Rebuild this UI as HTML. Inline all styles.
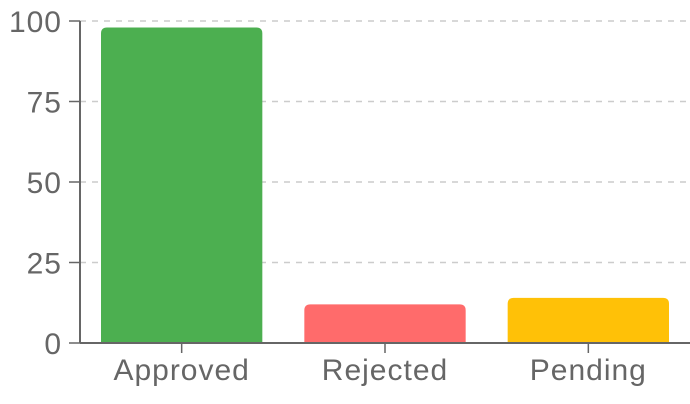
<!DOCTYPE html>
<html><head><meta charset="utf-8"><style>
html,body{margin:0;padding:0;background:#fff;}
svg{display:block;font-family:"Liberation Sans",sans-serif;}
</style></head><body>
<svg id="chart" width="690" height="404"></svg>
<script>
const categories=["Approved","Rejected","Pending"];
const values=[98,12,14];
const colors=["#4caf50","#ff6b6b","#ffc107"];
const yTicks=[0,25,50,75,100];
const NS="http://www.w3.org/2000/svg";
const svgEl=document.getElementById('chart');
const plotLeft=80,plotRight=690,plotTop=21,plotBottom=343,yMax=100;
const yScale=v=>plotBottom-(v/yMax)*(plotBottom-plotTop);
const band=(plotRight-plotLeft)/categories.length;
const xScale=i=>plotLeft+i*band;
function mk(t,a){const e=document.createElementNS(NS,t);for(const k in a)e.setAttribute(k,a[k]);svgEl.appendChild(e);return e;}
yTicks.forEach(t=>{
 if(t>0){const g=mk('line',{x1:plotLeft,x2:plotRight,y1:yScale(t),y2:yScale(t),stroke:'#ccc','stroke-width':1.5,'stroke-dasharray':'6,6'});
 
 }
 const tk=mk('line',{x1:plotLeft-11,x2:plotLeft,y1:yScale(t),y2:yScale(t),stroke:'#666','stroke-width':1.5});
 
 
 const lb=mk('text',{x:plotLeft-18,y:yScale(t)+11,'text-anchor':'end','font-size':30,'letter-spacing':1,fill:'#666'});
 lb.textContent=t;
 
 
});
categories.forEach((c,i)=>{
 const bx=xScale(i)+21,bw=band-42,by=yScale(values[i]),r=6;
 const p=mk('path',{d:`M${bx},${plotBottom}V${by+r}Q${bx},${by} ${bx+r},${by}H${bx+bw-r}Q${bx+bw},${by} ${bx+bw},${by+r}V${plotBottom}Z`,fill:colors[i]});
 
 
 const cx=xScale(i)+band/2;
 const tk=mk('line',{x1:cx,x2:cx,y1:plotBottom,y2:plotBottom+10,stroke:'#666','stroke-width':1.5});
 
 
 const lb=mk('text',{x:cx,y:380,'text-anchor':'middle','font-size':30,'letter-spacing':1,fill:'#666'});
 lb.textContent=c;
 
 
});
const ya=mk('line',{x1:plotLeft,x2:plotLeft,y1:plotTop,y2:plotBottom,stroke:'#666','stroke-width':2});


const xa=mk('line',{x1:plotLeft,x2:plotRight,y1:plotBottom,y2:plotBottom,stroke:'#666','stroke-width':2});


</script>
</body></html>
